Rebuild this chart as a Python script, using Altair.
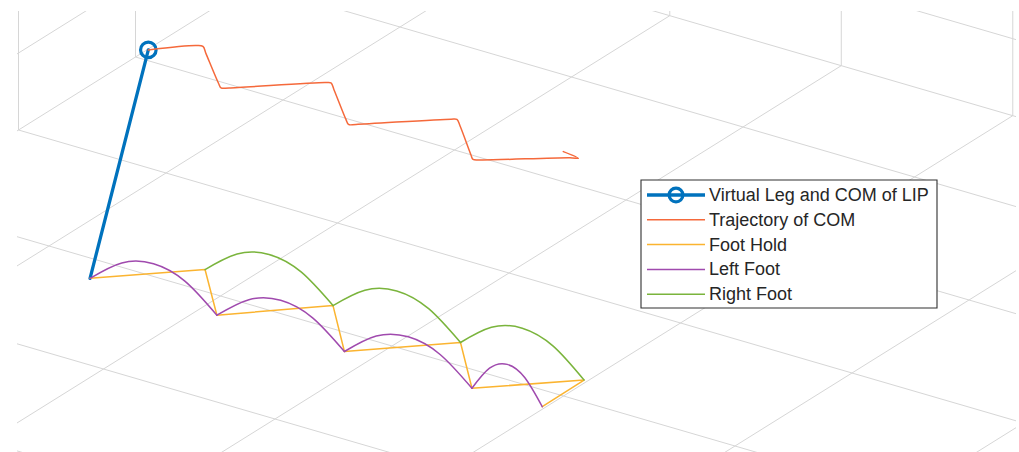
import altair as alt
import pandas as pd

# ------------------------------------------------------------------
# World data (grid units)
# ------------------------------------------------------------------
# Foot holds in stepping order: L0, R1, L1, R2, L2, R3, L3, R4, L4
HOLD_X = [0.369, 0.770, 1.108, 1.508, 1.846, 2.250, 2.587, 2.980, 2.984]
HOLD_Y = [2.190, 1.795, 2.189, 1.783, 2.181, 1.781, 2.177, 1.795, 2.158]

# Left foot swing arcs (4 arcs, 5 samples each)
LEFT_ARC = [1] * 5 + [2] * 5 + [3] * 5 + [4] * 5
LEFT_X = [0.369, 0.554, 0.739, 0.923, 1.108,
          1.108, 1.293, 1.477, 1.662, 1.846,
          1.846, 2.031, 2.217, 2.402, 2.587,
          2.587, 2.686, 2.786, 2.885, 2.984]
LEFT_Y = [2.190, 2.190, 2.190, 2.189, 2.189,
          2.189, 2.187, 2.185, 2.183, 2.181,
          2.181, 2.180, 2.179, 2.178, 2.177,
          2.177, 2.172, 2.167, 2.163, 2.158]
LEFT_Z = [0.0, 0.32, 0.43, 0.32, 0.0] * 4

# Right foot swing arcs (3 arcs, 5 samples each)
RIGHT_ARC = [1] * 5 + [2] * 5 + [3] * 5
RIGHT_X = [0.770, 0.955, 1.139, 1.324, 1.508,
           1.508, 1.694, 1.879, 2.065, 2.250,
           2.250, 2.433, 2.615, 2.798, 2.980]
RIGHT_Y = [1.795, 1.792, 1.789, 1.786, 1.783,
           1.783, 1.783, 1.782, 1.782, 1.781,
           1.781, 1.785, 1.788, 1.792, 1.795]
RIGHT_Z = [0.0, 0.32, 0.43, 0.32, 0.0] * 3

# Centre of mass trajectory (constant height)
COM_X = [0.573, 0.735, 0.768, 0.828, 1.074, 1.104, 1.136, 1.483, 1.509, 1.566,
         1.801, 1.843, 1.873, 2.217, 2.242, 2.296, 2.524, 2.561, 2.596, 2.935,
         2.972, 2.870]
COM_Y = [1.991, 1.820, 1.810, 1.871, 2.121, 2.148, 2.126, 1.815, 1.802, 1.859,
         2.102, 2.142, 2.121, 1.813, 1.800, 1.852, 2.093, 2.130, 2.113, 1.850,
         1.832, 1.811]
COM_H = 2.91

# Axis limits and grid ticks
X_TICKS = [0, 1, 2, 3, 4, 5]
Y_TICKS = [-1, 0, 1, 2, 3, 4]
Z_TICKS = [0, 1, 2, 3]
XLIM = (-0.86, 5.6)
YLIM = (-1.84, 4.6)
ZLIM = (0.0, 3.5)

LEGEND_LABELS = ["Virtual Leg and COM of LIP", "Trajectory of COM",
                 "Foot Hold", "Left Foot", "Right Foot"]
BLUE, ORANGE, YELLOW, PURPLE, GREEN = "#0072BD", "#F5693B", "#FBB430", "#A04AAE", "#7AB43C"
LEGEND_COLORS = [BLUE, ORANGE, YELLOW, PURPLE, GREEN]
GRID = "#D6D6D6"
FONT = "Liberation Sans"

# ------------------------------------------------------------------
# Orthographic camera (page pixels per world unit)
# ------------------------------------------------------------------
ORIGIN = (283.0, 100.0)
EX = (171.5, 50.0)
EY = (-117.0, 73.0)
EZ = (0.0, -77.0)

PAD_L, PAD_T, PAD_R, PAD_B = 17, 11, 3, 0
W, H = 1019 - PAD_L - PAD_R, 452 - PAD_T - PAD_B


def proj(x, y, z):
    sx = ORIGIN[0] + x * EX[0] + y * EY[0] + z * EZ[0]
    sy = ORIGIN[1] + x * EX[1] + y * EY[1] + z * EZ[1]
    return sx, sy


def path_df(xs, ys, zs, group=None):
    rows = []
    for i, (x, y, z) in enumerate(zip(xs, ys, zs)):
        sx, sy = proj(x, y, z)
        rows.append({"i": i, "sx": sx, "sy": sy, "g": (group[i] if group else 0)})
    return pd.DataFrame(rows)


xs = alt.Scale(domain=[PAD_L, 1019 - PAD_R], nice=False, zero=False)
ys = alt.Scale(domain=[452 - PAD_B, PAD_T], nice=False, zero=False)

# ---- grid segments ----
segs = []
x0, x1 = XLIM
y0, y1 = YLIM
z0, z1 = ZLIM
for gx in X_TICKS:
    segs.append(((gx, y0, z0), (gx, y1, z0)))       # floor
    segs.append(((gx, y0, z0), (gx, y0, z1)))       # Ymin wall vertical
for gy in Y_TICKS:
    segs.append(((x0, gy, z0), (x1, gy, z0)))       # floor
    segs.append(((x0, gy, z0), (x0, gy, z1)))       # Xmin wall vertical
for gz in Z_TICKS:
    segs.append(((x0, y0, gz), (x0, y1, gz)))       # Xmin wall
    segs.append(((x0, y0, gz), (x1, y0, gz)))       # Ymin wall
grid_rows = []
for a, b in segs:
    sx, sy = proj(*a)
    sx2, sy2 = proj(*b)
    grid_rows.append({"sx": sx, "sy": sy, "sx2": sx2, "sy2": sy2})
grid_df = pd.DataFrame(grid_rows)

grid = alt.Chart(grid_df).mark_rule(color=GRID, strokeWidth=1, clip=True).encode(
    x=alt.X("sx:Q", scale=xs, axis=None), y=alt.Y("sy:Q", scale=ys, axis=None),
    x2="sx2:Q", y2="sy2:Q")


def line_layer(df, color, width, detail=False, interp="linear"):
    enc = dict(x=alt.X("sx:Q", scale=xs, axis=None), y=alt.Y("sy:Q", scale=ys, axis=None),
               order="i:Q")
    if detail:
        enc["detail"] = "g:N"
    return alt.Chart(df).mark_line(color=color, strokeWidth=width, clip=True,
                                   interpolate=interp,
                                   strokeJoin="round", strokeCap="round").encode(**enc)


leg_df = path_df([HOLD_X[0], COM_X[0]], [HOLD_Y[0], COM_Y[0]], [0.0, COM_H])
com_df = path_df(COM_X, COM_Y, [COM_H] * len(COM_X))
hold_df = path_df(HOLD_X, HOLD_Y, [0.0] * len(HOLD_X))
left_df = path_df(LEFT_X, LEFT_Y, LEFT_Z, LEFT_ARC)
right_df = path_df(RIGHT_X, RIGHT_Y, RIGHT_Z, RIGHT_ARC)
head_df = leg_df.iloc[[1]]

leg = line_layer(leg_df, BLUE, 3.3)
head = alt.Chart(head_df).mark_point(shape="circle", filled=False, size=240,
                                     strokeWidth=3.2, color=BLUE, opacity=1).encode(
    x=alt.X("sx:Q", scale=xs, axis=None), y=alt.Y("sy:Q", scale=ys, axis=None))
com = line_layer(com_df, ORANGE, 1.5, interp="catmull-rom")
hold = line_layer(hold_df, YELLOW, 1.5)
left = line_layer(left_df, PURPLE, 1.5, detail=True, interp="natural")
right = line_layer(right_df, GREEN, 1.5, detail=True, interp="natural")

# ---- legend (page pixel layout) ----
BOX = (641, 180, 937, 308)
ROW0, ROW_STEP = 195, 24.8
SAMPLE_X = (647, 705)
TEXT_X = 709

box_df = pd.DataFrame([{"x": BOX[0], "y": BOX[1], "x2": BOX[2], "y2": BOX[3]}])
box = alt.Chart(box_df).mark_rect(fill="white", stroke="#303030", strokeWidth=1.1).encode(
    x=alt.X("x:Q", scale=xs, axis=None), y=alt.Y("y:Q", scale=ys, axis=None),
    x2="x2:Q", y2="y2:Q")

leg_rows = []
for k, (lab, col) in enumerate(zip(LEGEND_LABELS, LEGEND_COLORS)):
    yy = ROW0 + k * ROW_STEP
    leg_rows.append({"label": lab, "color": col, "x": SAMPLE_X[0], "x2": SAMPLE_X[1],
                     "xc": (SAMPLE_X[0] + SAMPLE_X[1]) / 2, "tx": TEXT_X, "y": yy,
                     "ty": yy + 1, "w": 3.3 if k == 0 else 1.5, "k": k})
legend_df = pd.DataFrame(leg_rows)

legend_lines = alt.Chart(legend_df).mark_rule().encode(
    x=alt.X("x:Q", scale=xs, axis=None), x2="x2:Q",
    y=alt.Y("y:Q", scale=ys, axis=None),
    color=alt.Color("color:N", scale=None, legend=None),
    strokeWidth=alt.StrokeWidth("w:Q", scale=None, legend=None))
legend_marker = alt.Chart(legend_df[legend_df.k == 0]).mark_point(
    shape="circle", filled=False, size=190, strokeWidth=3.2, color=BLUE, opacity=1).encode(
    x=alt.X("xc:Q", scale=xs, axis=None), y=alt.Y("y:Q", scale=ys, axis=None))
legend_text = alt.Chart(legend_df).mark_text(
    align="left", baseline="middle", fontSize=18, font=FONT, color="#262626").encode(
    x=alt.X("tx:Q", scale=xs, axis=None), y=alt.Y("ty:Q", scale=ys, axis=None),
    text="label:N")

chart = alt.layer(grid, leg, head, com, hold, left, right,
                  box, legend_lines, legend_marker, legend_text).properties(
    width=W, height=H,
    padding={"left": PAD_L, "top": PAD_T, "right": PAD_R, "bottom": PAD_B},
    autosize=alt.AutoSizeParams(type="none"),
    background="white",
).configure_view(stroke=None)

chart.save("out.html", embed_options={"renderer": "svg", "actions": False})
